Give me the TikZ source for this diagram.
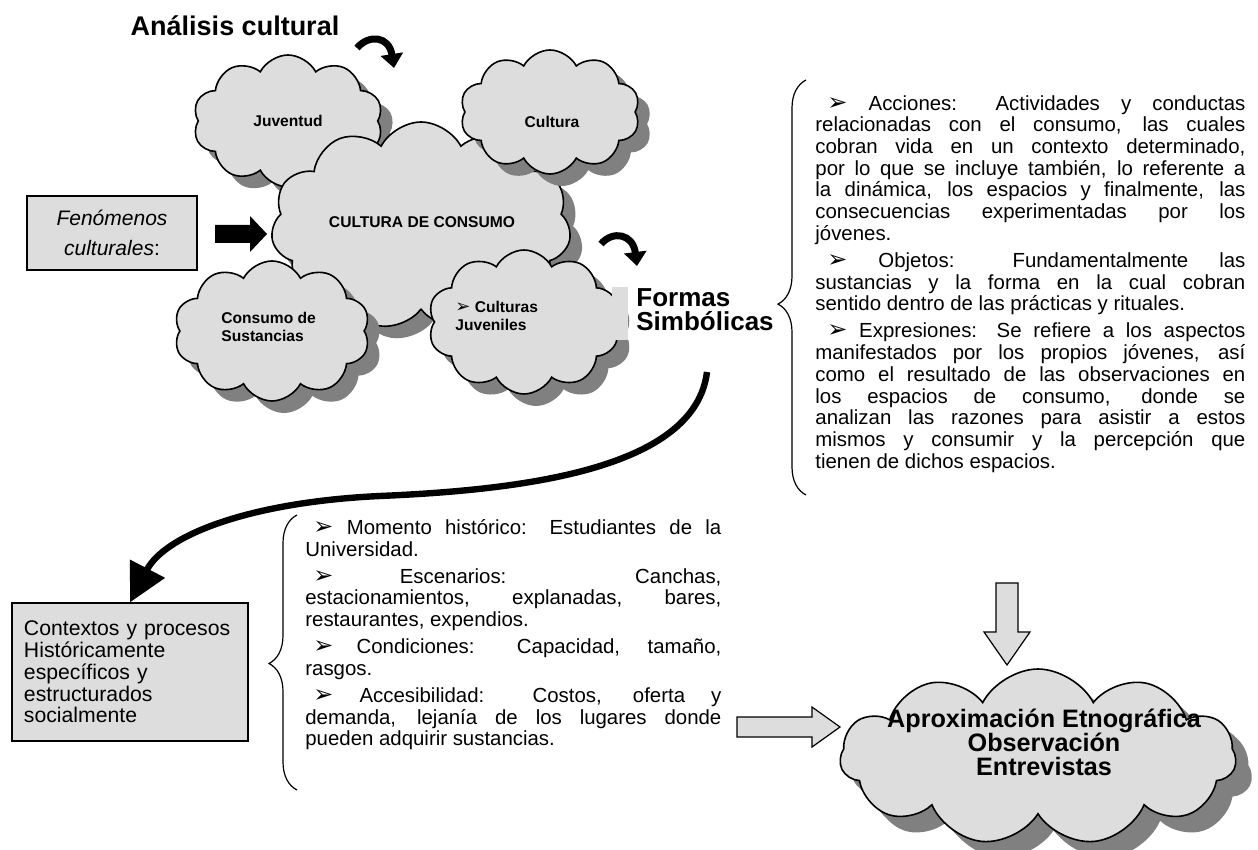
\documentclass[tikz,border=0pt]{standalone}
\usepackage{fontspec}
\setmainfont{Liberation Sans}
\newfontfamily\dingfont{DejaVu Sans}
\usetikzlibrary{shapes.symbols,shadows,arrows.meta,decorations.pathreplacing}
\definecolor{gris}{HTML}{DDDDDD}
\definecolor{grisosc}{HTML}{808080}
\newcommand{\vineta}{{\dingfont\fontsize{12}{10}\selectfont ➢}}
\newcommand{\vinetachica}{{\dingfont\fontsize{9}{9}\selectfont ➢}}
\tikzset{
	nube/.style={cloud, cloud puffs=10, cloud puff arc=125, cloud ignores aspect, draw=black, line width=0.8pt, fill=gris, drop shadow={shadow xshift=6pt, shadow yshift=-6pt, fill=grisosc, opacity=1}, inner sep=0pt},
	etiqueta/.style={font=\fontsize{7.8}{9}\selectfont\bfseries, inner sep=0pt},
	caja/.style={draw=black, line width=0.6pt, fill=gris},
	texto/.style={inner sep=0pt, align=justify, font=\fontsize{10.2}{10.85}\selectfont},
	titulo/.style={font=\fontsize{13}{12}\selectfont\bfseries, inner sep=0pt},
	llave/.style={decorate, decoration={brace, amplitude=14pt, aspect=0.46}, line width=0.6pt},
	curva/.style={line width=3.5pt, -{Triangle[length=7pt, width=11pt]}},
	hueca/.style={draw=black, line width=0.6pt, fill=gris},
}
\newcommand{\ajuste}{\tolerance=10000\hbadness=10000\hyphenpenalty=10000\parindent=0pt\parskip=2.7pt}
\begin{document}
\begin{tikzpicture}[x=0.5pt, y=-0.5pt]
	\useasboundingbox (0,0) rectangle (1258,850);

	\node [nube, minimum width=95pt, minimum height=66pt] (juventud) at (288,121) {};
	\node [nube, minimum width=150pt, minimum height=104pt, cloud puffs=11] (consumo) at (421,226) {};
	\node [nube, minimum width=90pt, minimum height=62pt] (cultura) at (550,112) {};
	\node [nube, minimum width=98pt, minimum height=70pt] (sustancias) at (272,331) {};
	\node [nube, minimum width=96pt, minimum height=72pt] (juveniles) at (524,322) {};
	\fill [gris] (612,287) rectangle (628,340);

	\node [etiqueta] (juventudtxt) at (juventud.center) {Juventud};
	\node [etiqueta] (culturatxt) at (552,122) {Cultura};
	\node [etiqueta] (consumotxt) at (422,222) {CULTURA DE CONSUMO};
	\node [etiqueta, anchor=west, align=left] (sustanciastxt) at (221,327) {Consumo de\\Sustancias};
	\node [etiqueta, anchor=west, align=left] (juvenilestxt) at (455,316) {\vinetachica{} Culturas\\Juveniles};

	\node [titulo, font=\fontsize{13.5}{12}\selectfont\bfseries] (analisis) at (235,26) {Análisis cultural};
	\node [titulo, anchor=west, align=left] (formas) at (636,310) {Formas\\Simbólicas};

	\draw [curva] (357,48) .. controls (369,34) and (389,36) .. (394,68);
	\draw [curva] (601,244) .. controls (613,230) and (633,234) .. (637,266);

	\node [caja, minimum width=85pt, minimum height=37pt, align=center, font=\fontsize{10.5}{15}\selectfont] (fenomenos) at (112,233) {\textit{Fenómenos}\\\textit{culturales}:};
	\fill [black] (215,225) -- (250,225) -- (250,216) -- (267,234) -- (250,252) -- (250,243) -- (215,243) -- cycle;

	\draw [llave] (806,495) -- (806,80);
	\node [texto, text width=215pt, anchor=north west] (formaslista) at (815,95) {\ajuste
	\hspace*{6pt}\vineta{} Acciones: Actividades y conductas\linebreak relacionadas con el consumo, las cuales\linebreak cobran vida en un contexto determinado,\linebreak por lo que se incluye también, lo referente a\linebreak la dinámica, los espacios y finalmente, las\linebreak consecuencias experimentadas por los\linebreak jóvenes.\par
	\hspace*{6pt}\vineta{} Objetos: Fundamentalmente las\linebreak sustancias y la forma en la cual cobran\linebreak sentido dentro de las prácticas y rituales.\par
	\hspace*{6pt}\vineta{} Expresiones: Se refiere a los aspectos\linebreak manifestados por los propios jóvenes, así\linebreak como el resultado de las observaciones en\linebreak los espacios de consumo, donde se\linebreak analizan las razones para asistir a estos\linebreak mismos y consumir y la percepción que\linebreak tienen de dichos espacios.};

	\node [caja, minimum width=118pt, minimum height=69pt, text width=106pt, inner xsep=6pt, align=left, font=\fontsize{10.6}{10.9}\selectfont] (contextos) at (130,672) {Contextos y procesos\\Históricamente\\específicos y\\estructurados\\socialmente};
	\coordinate (inicio) at (707,372);
	\draw [line width=3.2pt, -{Triangle[length=19pt, width=19pt]}] (inicio) .. controls (695,470) and (520,490) .. (380,496) .. controls (250,502) and (165,535) .. (contextos.north);

	\draw [llave] (297,790) -- (297,515);
	\node [texto, text width=208pt, anchor=north west] (contextoslista) at (305,519) {\ajuste
	\hspace*{4pt}\vineta{} Momento histórico: Estudiantes de la\linebreak Universidad.\par
	\hspace*{4pt}\vineta{} Escenarios: Canchas,\linebreak estacionamientos, explanadas, bares,\linebreak restaurantes, expendios.\par
	\hspace*{4pt}\vineta{} Condiciones: Capacidad, tamaño,\linebreak rasgos.\par
	\hspace*{4pt}\vineta{} Accesibilidad: Costos, oferta y\linebreak demanda, lejanía de los lugares donde\linebreak pueden adquirir sustancias.};

	\node [nube, minimum width=198pt, minimum height=88pt, cloud puffs=11, drop shadow={shadow xshift=8pt, shadow yshift=-8pt, fill=grisosc, opacity=1}] (aproximacion) at (1038,757) {};
	\node [align=center, inner sep=0pt, font=\fontsize{12.6}{12}\selectfont\bfseries] (aproximaciontxt) at (1044,742) {Aproximación Etnográfica\\Observación\\Entrevistas};

	\draw [hueca] (737,717) -- (812,717) -- (812,707) -- (840,727) -- (812,747) -- (812,737) -- (737,737) -- cycle;
	\draw [hueca] (996,583) -- (1018,583) -- (1018,632) -- (1030,632) -- (1007,665) -- (984,632) -- (996,632) -- cycle;
\end{tikzpicture}
\end{document}
